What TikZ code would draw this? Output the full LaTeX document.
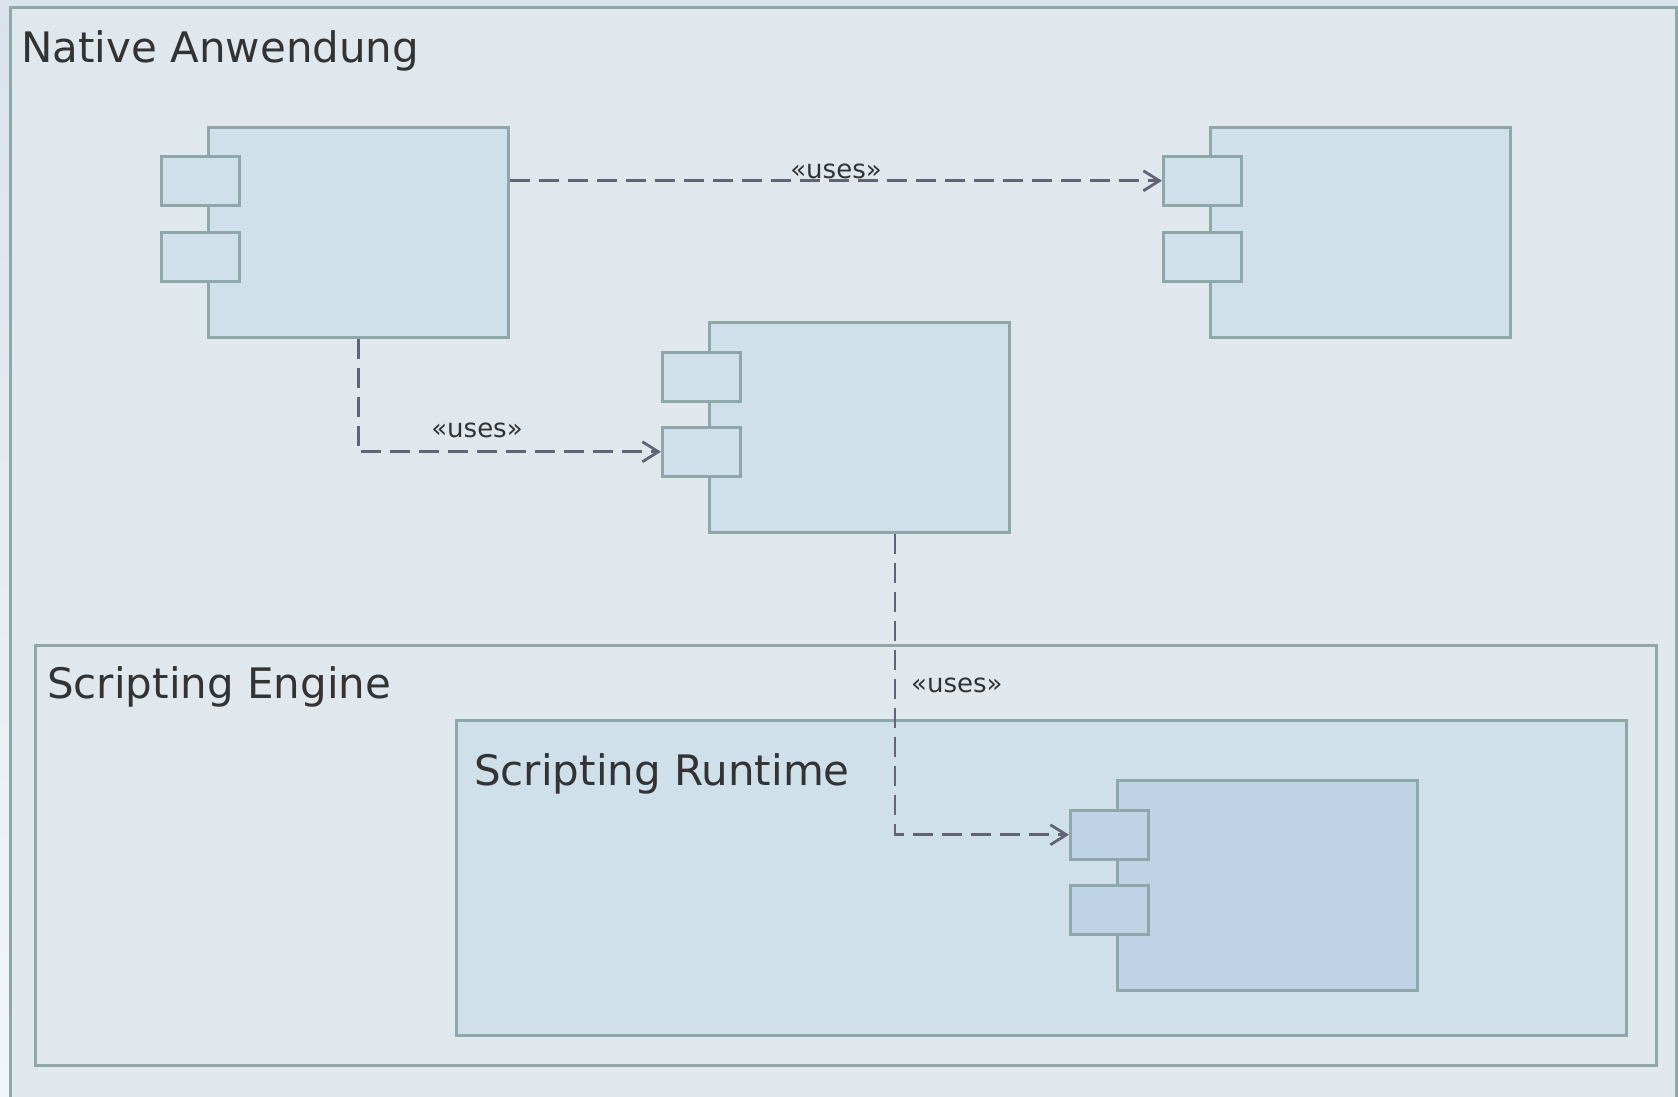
\documentclass[tikz,border=0pt]{standalone}
\usepackage{fontspec}
\setmainfont{DejaVu Sans}
\usetikzlibrary{arrows.meta,calc}
\definecolor{bgtop}{HTML}{D9E3EB}
\definecolor{bgbot}{HTML}{F2F6F9}
\definecolor{framefill}{HTML}{E0E8EE}
\definecolor{compfill}{HTML}{CFE0EB}
\definecolor{compdark}{HTML}{BED4E6}
\definecolor{edge}{HTML}{8EA8A9}
\definecolor{arrowc}{HTML}{626475}
\definecolor{txt}{HTML}{333333}
\begin{document}
\begin{tikzpicture}[x=1pt,y=-1pt,
  frame/.style={rectangle, draw=edge, line width=2.5pt, anchor=north west, inner sep=0pt},
  comp/.style={rectangle, draw=edge, fill=compfill, line width=2.5pt, minimum width=300pt, minimum height=210pt, anchor=north west, inner sep=0pt},
  port/.style={rectangle, draw=edge, fill=compfill, line width=2.5pt, minimum width=78pt, minimum height=49pt, anchor=north west, inner sep=0pt},
  uses/.style={draw=arrowc, line width=2.8pt, dash pattern=on 20pt off 9pt, -{Straight Barb[length=16pt,width=20pt,line width=2.8pt]}},
  title/.style={font=\fontsize{42}{50}\selectfont, text=txt, anchor=base west, inner sep=0pt},
  lbl/.style={font=\fontsize{26}{30}\selectfont, text=txt, inner sep=0pt, anchor=base}]
\useasboundingbox (0,0) rectangle (1678,1096);
\clip (0,0) rectangle (1678,1096);
\shade[top color=bgtop, bottom color=bgbot] (0,0) rectangle (1678,1096);
% outer frame
\node[frame, fill=framefill, line width=3pt, minimum width=1666pt, minimum height=1110pt] (app) at (9,6) {};
\node[title] (tapp) at (21,62) {Native Anwendung};
% scripting engine
\node[frame, fill=framefill, minimum width=1621pt, minimum height=420pt] (eng) at (34,644) {};
\node[title] (teng) at (47,698) {Scripting Engine};
% scripting runtime
\node[frame, fill=compfill, minimum width=1170pt, minimum height=315pt] (rt) at (455,719) {};
\node[title] (trt) at (474,785) {Scripting Runtime};
% component 1
\node[comp] (c1) at (207,126) {};
\node[port] (c1p1) at (160,155) {};
\node[port] (c1p2) at (160,231) {};
% component 2
\node[comp] (c2) at (1209,126) {};
\node[port] (c2p1) at (1162,155) {};
\node[port] (c2p2) at (1162,231) {};
% component 3
\node[comp] (c3) at (708,321) {};
\node[port] (c3p1) at (661,351) {};
\node[port] (c3p2) at (661,426) {};
% component 4
\node[comp, fill=compdark] (c4) at (1116,779) {};
\node[port, fill=compdark] (c4p1) at (1069,809) {};
\node[port, fill=compdark] (c4p2) at (1069,884) {};
% connectors
\draw[uses] (c1.east |- c1p1.center) -- (c2p1.west);
\draw[uses] (c1.south) |- (c3p2.west);
\coordinate (a3s) at ($(c3.south west)+(187,0)$);
\draw[uses] (a3s) |- (c4p1.west);
% labels
\node[lbl] (l1) at (836,178) {«uses»};
\node[lbl] (l2) at (477,437) {«uses»};
\node[lbl, anchor=base west] (l3) at (911,692) {«uses»};
\end{tikzpicture}
\end{document}
